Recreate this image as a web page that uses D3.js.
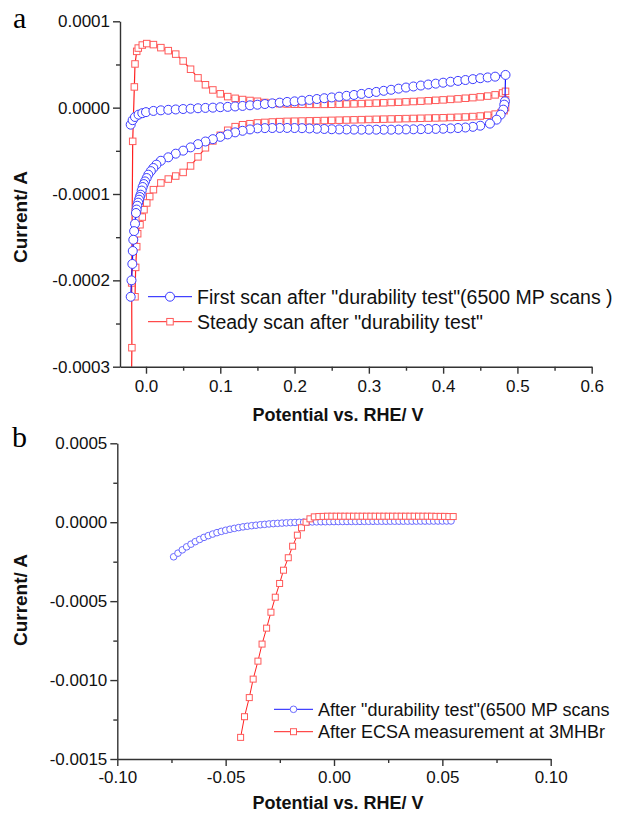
<!DOCTYPE html>
<html>
<head>
<meta charset="utf-8">
<script src="https://cdn.jsdelivr.net/npm/d3@7"></script>
<style>
  body { margin: 0; background: #fff; }
</style>
</head>
<body>
<div id="chart"></div>
<script>
// ---- data (potential in V, current in uA for panel a, in A for panel b) ----
const blueAnodic = [[-0.0206,-19.7],[-0.018,-14.5],[-0.0148,-10.8],[-0.01,-8.1],[-0.005,-6.4],[0,-5.2],[0.01,-3.8],[0.02,-3.1],[0.03,-2.5],[0.04,-2.1],[0.05,-1.6],[0.06,-1.2],[0.07,-0.7],[0.08,-0.3],[0.09,0],[0.10,0.5],[0.11,0.9],[0.12,1.4],[0.13,2.0],[0.14,2.7],[0.15,3.4],[0.16,4.2],[0.17,5.0],[0.18,5.8],[0.19,6.6],[0.20,7.3],[0.21,8.1],[0.22,9.0],[0.23,10.0],[0.24,10.9],[0.25,11.8],[0.26,12.7],[0.27,13.7],[0.28,14.7],[0.29,15.9],[0.30,17.0],[0.31,18.2],[0.32,19.5],[0.33,20.7],[0.34,22.0],[0.35,23.3],[0.36,24.5],[0.37,25.6],[0.38,26.8],[0.39,27.8],[0.40,28.9],[0.41,30.0],[0.42,31.0],[0.43,32.0],[0.44,33.0],[0.45,34.1],[0.46,35.0],[0.47,35.9],[0.484,37.9]]
const blueCathodic = [[0.4832,7.3],[0.4823,3.5],[0.481,-2.3],[0.4774,-8.1],[0.472,-13.9],[0.463,-18.5],[0.45,-20.9],[0.44,-22.2],[0.43,-23.0],[0.42,-23.6],[0.41,-24.0],[0.40,-24.4],[0.39,-24.6],[0.38,-24.7],[0.37,-24.9],[0.36,-25.1],[0.35,-25.2],[0.34,-25.4],[0.33,-25.5],[0.32,-25.5],[0.31,-25.5],[0.30,-25.5],[0.29,-25.5],[0.28,-25.4],[0.27,-25.3],[0.26,-25.2],[0.25,-25.0],[0.24,-24.7],[0.23,-24.4],[0.22,-24.1],[0.21,-23.8],[0.20,-23.6],[0.19,-23.5],[0.18,-23.5],[0.17,-23.6],[0.16,-23.7],[0.15,-24.0],[0.14,-25.2],[0.13,-26.8],[0.12,-28.6],[0.11,-31.0],[0.10,-33.8],[0.09,-36.5],[0.08,-39.2],[0.07,-42.3],[0.06,-46.0],[0.05,-49.8],[0.04,-53.3],[0.03,-57.5],[0.02,-61.5],[0.014,-66],[0.0099,-69.9],[0.0065,-73.5],[0.0031,-77.6],[0.0009,-81.5],[-0.0013,-85.4],[-0.0029,-88.5],[-0.0045,-91.9],[-0.0058,-96],[-0.0072,-100.8],[-0.0083,-103.5],[-0.0094,-106.6],[-0.0105,-110],[-0.0117,-113.6],[-0.0126,-118],[-0.0135,-122],[-0.0148,-134.4],[-0.016,-143],[-0.0171,-153],[-0.0178,-166],[-0.0184,-181],[-0.0195,-200],[-0.0206,-219]]
const redAnodic = [[-0.0195,-315],[-0.019,-278],[-0.0193,-203],[-0.0179,-39],[-0.0157,24],[-0.0148,50.6],[-0.0125,65.2],[-0.0104,69],[-0.005,72.5],[0.001,74.2],[0.01,73],[0.02,69.5],[0.03,66],[0.04,62],[0.05,54],[0.06,44.5],[0.07,34.5],[0.08,26.5],[0.09,20.5],[0.10,16],[0.11,12.8],[0.12,10.8],[0.13,9.4],[0.14,8.3],[0.15,7.4],[0.16,6.0],[0.17,5.2],[0.18,4.6],[0.19,4.2],[0.20,4.0],[0.21,3.9],[0.22,3.8],[0.23,3.8],[0.24,3.8],[0.25,3.9],[0.26,4.0],[0.27,4.2],[0.28,4.4],[0.29,4.7],[0.30,5.0],[0.31,5.3],[0.32,5.6],[0.33,6.0],[0.34,6.3],[0.35,6.7],[0.36,7.1],[0.37,7.5],[0.38,8.0],[0.39,8.5],[0.40,9.0],[0.41,9.6],[0.42,10.2],[0.43,10.9],[0.44,11.6],[0.45,12.5],[0.46,13.4],[0.47,14.8],[0.48,17.0],[0.484,18.9]]
const redCathodic = [[0.484,9],[0.484,0],[0.482,-3.5],[0.478,-5.8],[0.47,-7.5],[0.46,-8.8],[0.45,-9.7],[0.44,-10.3],[0.43,-10.8],[0.42,-11.1],[0.41,-11.4],[0.40,-11.7],[0.39,-11.9],[0.38,-12.1],[0.37,-12.3],[0.36,-12.5],[0.35,-12.7],[0.34,-12.9],[0.33,-13.1],[0.32,-13.3],[0.31,-13.5],[0.30,-13.7],[0.29,-13.9],[0.28,-14.1],[0.27,-14.3],[0.26,-14.5],[0.25,-14.7],[0.24,-14.9],[0.23,-15.1],[0.22,-15.3],[0.21,-15.5],[0.20,-15.7],[0.19,-15.9],[0.18,-16.2],[0.17,-16.6],[0.16,-17.1],[0.15,-17.7],[0.14,-18.6],[0.13,-19.8],[0.12,-22],[0.11,-26.2],[0.10,-32],[0.09,-38.5],[0.08,-46.5],[0.07,-57],[0.06,-67.5],[0.05,-75],[0.04,-79.2],[0.03,-82.7],[0.02,-87.2],[0.01,-95],[0.005,-103],[0.001,-110.4],[-0.0027,-118.2],[-0.005,-126.7],[-0.0081,-135.6],[-0.0112,-146],[-0.0125,-161],[-0.0139,-185],[-0.0148,-219]]

const bBlueV = [-0.074,-0.072,-0.070,-0.068,-0.066,-0.064,-0.062,-0.060,-0.058,-0.056,-0.054,-0.052,-0.050,-0.048,-0.046,-0.044,-0.042,-0.040,-0.038,-0.036,-0.034,-0.032,-0.030,-0.028,-0.026,-0.024,-0.022,-0.020,-0.018,-0.016,-0.014,-0.012,-0.010,-0.008,-0.006,-0.004,-0.002,0.000,0.002,0.004,0.006,0.008,0.010,0.012,0.014,0.016,0.018,0.020,0.022,0.024,0.026,0.028,0.030,0.032,0.034,0.036,0.038,0.040,0.042,0.044,0.046,0.048,0.050,0.052,0.054]
const bBlueI = [-2.19e-4,-1.96e-4,-1.75e-4,-1.56e-4,-1.39e-4,-1.23e-4,-1.09e-4,-9.6e-5,-8.5e-5,-7.5e-5,-6.6e-5,-5.8e-5,-5.1e-5,-4.45e-5,-3.9e-5,-3.4e-5,-2.95e-5,-2.55e-5,-2.2e-5,-1.9e-5,-1.6e-5,-1.35e-5,-1.1e-5,-9e-6,-7.2e-6,-5.5e-6,-4e-6,-2.7e-6,-1.5e-6,-5e-7,5e-7,1.2e-6,1.8e-6,2.4e-6,2.9e-6,3.3e-6,3.7e-6,4e-6,4.3e-6,4.6e-6,4.8e-6,5e-6,5.2e-6,5.4e-6,5.6e-6,5.8e-6,6e-6,6.1e-6,6.2e-6,6.3e-6,6.4e-6,6.5e-6,6.6e-6,6.7e-6,6.8e-6,6.9e-6,7e-6,7.1e-6,7.2e-6,7.3e-6,7.4e-6,7.5e-6,7.6e-6,7.7e-6,7.8e-6]
const bRedV = [-0.0431,-0.0413,-0.0391,-0.0373,-0.0351,-0.0332,-0.0311,-0.0291,-0.0271,-0.0251,-0.0233,-0.0211,-0.0191,-0.0169,-0.015,-0.0129,-0.0111,-0.0091,-0.007,-0.005,-0.003,-0.001,0.001,0.003,0.005,0.007,0.009,0.011,0.013,0.015,0.017,0.019,0.021,0.023,0.025,0.027,0.029,0.031,0.033,0.035,0.037,0.039,0.041,0.043,0.045,0.047,0.049,0.051,0.053,0.055]
const bRedI = [-1.363e-3,-1.232e-3,-1.111e-3,-9.94e-4,-8.8e-4,-7.72e-4,-6.71e-4,-5.7e-4,-4.75e-4,-3.88e-4,-3.04e-4,-2.25e-4,-1.52e-4,-8.2e-5,-3.5e-5,0,2.15e-5,3.4e-5,3.6e-5,3.7e-5,3.8e-5,3.8e-5,3.8e-5,3.8e-5,3.8e-5,3.8e-5,3.8e-5,3.8e-5,3.8e-5,3.8e-5,3.8e-5,3.8e-5,3.8e-5,3.8e-5,3.8e-5,3.8e-5,3.8e-5,3.8e-5,3.8e-5,3.8e-5,3.8e-5,3.8e-5,3.8e-5,3.8e-5,3.8e-5,3.7e-5,3.7e-5,3.7e-5,3.6e-5,3.6e-5]

const aXTicks = [0, 0.1, 0.2, 0.3, 0.4, 0.5, 0.6]
const aXMinor = [0.05, 0.15, 0.25, 0.35, 0.45, 0.55]
const aYTicks = [-0.0003, -0.0002, -0.0001, 0, 0.0001]
const aYMinor = [-0.00025, -0.00015, -0.00005, 0.00005]
const bXTicks = [-0.10, -0.05, 0, 0.05, 0.10]
const bXMinor = [-0.075, -0.025, 0.025, 0.075]
const bYTicks = [-0.0015, -0.0010, -0.0005, 0, 0.0005]
const bYMinor = [-0.00125, -0.00075, -0.00025, 0.00025]

const aLegend = ['First scan after "durability test"(6500 MP scans )', 'Steady scan after "durability test"']
const bLegend = ['After "durability test"(6500 MP scans', 'After ECSA measurement at 3MHBr']

// ---- setup ----
const SANS = '"Liberation Sans", Arial, Helvetica, sans-serif'
const BLUE = '#3c3cff', BLUE_LINE = '#1515ff'
const RED = '#ff5a5a', RED_LINE = '#ff2020'
const AXIS = '#333'

const svg = d3.select('#chart').append('svg')
  .attr('width', 617)
  .attr('height', 814)

const xA = d3.scaleLinear().domain([-0.035, 0.6]).range([120, 591.7])
const yA = d3.scaleLinear().domain([-0.0003, 0.0001]).range([366.7, 21.3])
const xB = d3.scaleLinear().domain([-0.1, 0.1]).range([117.3, 550.7])
const yB = d3.scaleLinear().domain([-0.0015, 0.0005]).range([759, 443.3])

function styleAxis(g) {
  g.select('.domain').attr('stroke', AXIS).attr('stroke-width', 1.4)
  g.selectAll('.tick line').attr('stroke', AXIS).attr('stroke-width', 1.4)
  g.selectAll('.tick text')
    .attr('font-family', SANS)
    .attr('font-size', 17)
    .attr('fill', '#111')
}

function drawAxes(x, y, xt, xm, yt, ym, xfmt, yfmt, xpad) {
  const x0 = x.range()[0], y0 = y.range()[0]

  svg.append('g').attr('transform', `translate(0,${y0})`)
    .call(d3.axisBottom(x).tickValues(xm).tickSize(4).tickSizeOuter(0).tickFormat(''))
    .call(g => g.select('.domain').remove())
    .call(styleAxis)
  svg.append('g').attr('transform', `translate(0,${y0})`)
    .call(d3.axisBottom(x).tickValues(xt).tickSize(7).tickPadding(xpad).tickSizeOuter(0).tickFormat(xfmt))
    .call(styleAxis)

  svg.append('g').attr('transform', `translate(${x0},0)`)
    .call(d3.axisLeft(y).tickValues(ym).tickSize(4).tickSizeOuter(0).tickFormat(''))
    .call(g => g.select('.domain').remove())
    .call(styleAxis)
  svg.append('g').attr('transform', `translate(${x0},0)`)
    .call(d3.axisLeft(y).tickValues(yt).tickSize(7).tickPadding(3).tickSizeOuter(0).tickFormat(yfmt))
    .call(styleAxis)
}

function circleMarks(g, pts, r, color) {
  g.selectAll(null).data(pts).join('circle')
    .attr('cx', d => d[0]).attr('cy', d => d[1]).attr('r', r)
    .attr('fill', '#fff').attr('stroke', color).attr('stroke-width', 1)
}

function squareMarks(g, pts, s, color) {
  g.selectAll(null).data(pts).join('rect')
    .attr('x', d => d[0] - s / 2).attr('y', d => d[1] - s / 2)
    .attr('width', s).attr('height', s)
    .attr('fill', '#fff').attr('stroke', color).attr('stroke-width', 1)
}

function legendRow(x1, x2, y, text, kind, size, color, lineColor, fs) {
  svg.append('line').attr('x1', x1).attr('x2', x2).attr('y1', y).attr('y2', y)
    .attr('stroke', lineColor).attr('stroke-width', 1)
  const g = svg.append('g')
  const mx = (x1 + x2) / 2
  if (kind === 'circle') circleMarks(g, [[mx, y]], size, color)
  else squareMarks(g, [[mx, y]], size, color)
  svg.append('text').attr('x', x2 + 5).attr('y', y).attr('dy', '0.36em')
    .attr('font-family', SANS).attr('font-size', fs).attr('fill', '#111')
    .text(text)
}

// ---- panel a ----
svg.append('defs').append('clipPath').attr('id', 'clipA')
  .append('rect').attr('x', 120).attr('y', 12).attr('width', 480).attr('height', 354.7)

const plotA = svg.append('g').attr('clip-path', 'url(#clipA)')
const lineA = d3.line().x(d => xA(d[0])).y(d => yA(d[1] * 1e-6))

const redA = redAnodic.concat(redCathodic)
const blueA = blueAnodic.concat(blueCathodic)

plotA.append('path').datum(redA).attr('d', lineA)
  .attr('fill', 'none').attr('stroke', RED_LINE).attr('stroke-width', 1.2)
squareMarks(plotA.append('g'), redA.map(d => [xA(d[0]), yA(d[1] * 1e-6)]), 6.5, RED)
plotA.append('path').datum(blueA).attr('d', lineA)
  .attr('fill', 'none').attr('stroke', BLUE_LINE).attr('stroke-width', 1.2)
circleMarks(plotA.append('g'), blueA.map(d => [xA(d[0]), yA(d[1] * 1e-6)]), 4.5, BLUE)

drawAxes(xA, yA, aXTicks, aXMinor, aYTicks, aYMinor, d => d.toFixed(1), d => d.toFixed(4), 6)

legendRow(148, 192, 296.7, aLegend[0], 'circle', 4.5, BLUE, BLUE_LINE, 19.5)
legendRow(148, 192, 321.7, aLegend[1], 'square', 6.5, RED, RED_LINE, 19.5)

// ---- panel b ----
const blueB = bBlueV.map((v, i) => [v, bBlueI[i]])
const redB = bRedV.map((v, i) => [v, bRedI[i]])
const lineB = d3.line().x(d => xB(d[0])).y(d => yB(d[1]))
const plotB = svg.append('g')

plotB.append('path').datum(blueB).attr('d', lineB)
  .attr('fill', 'none').attr('stroke', BLUE_LINE).attr('stroke-width', 1)
circleMarks(plotB.append('g'), blueB.map(d => [xB(d[0]), yB(d[1])]), 3.3, '#6a6aff')
plotB.append('path').datum(redB).attr('d', lineB)
  .attr('fill', 'none').attr('stroke', RED_LINE).attr('stroke-width', 1)
squareMarks(plotB.append('g'), redB.map(d => [xB(d[0]), yB(d[1])]), 6, RED)

drawAxes(xB, yB, bXTicks, bXMinor, bYTicks, bYMinor, d => d.toFixed(2), d => d.toFixed(4), 5)

legendRow(274, 313, 709.3, bLegend[0], 'circle', 3.3, '#6a6aff', BLUE_LINE, 18)
legendRow(274, 313, 731.7, bLegend[1], 'square', 6, RED, RED_LINE, 18)

// ---- titles and panel letters ----
const titles = [
  { t: 'Potential vs. RHE/ V', x: 338, y: 420.7, rot: 0 },
  { t: 'Potential vs. RHE/ V', x: 338, y: 809, rot: 0 },
  { t: 'Current/ A', x: 27, y: 217, rot: -90 },
  { t: 'Current/ A', x: 27, y: 600, rot: -90 }
]
svg.selectAll('text.title').data(titles).join('text')
  .attr('class', 'title')
  .attr('transform', d => `translate(${d.x},${d.y}) rotate(${d.rot})`)
  .attr('text-anchor', 'middle')
  .attr('font-family', SANS).attr('font-weight', 'bold')
  .attr('font-size', d => d.rot ? 19 : 18)
  .attr('fill', '#111')
  .text(d => d.t)

svg.append('text').attr('x', 13).attr('y', 28.3)
  .attr('font-family', '"Liberation Serif", "Times New Roman", serif').attr('font-size', 30)
  .text('a')
svg.append('text').attr('x', 12).attr('y', 446.7)
  .attr('font-family', '"Liberation Serif", "Times New Roman", serif').attr('font-size', 30)
  .text('b')
</script>
</body>
</html>
